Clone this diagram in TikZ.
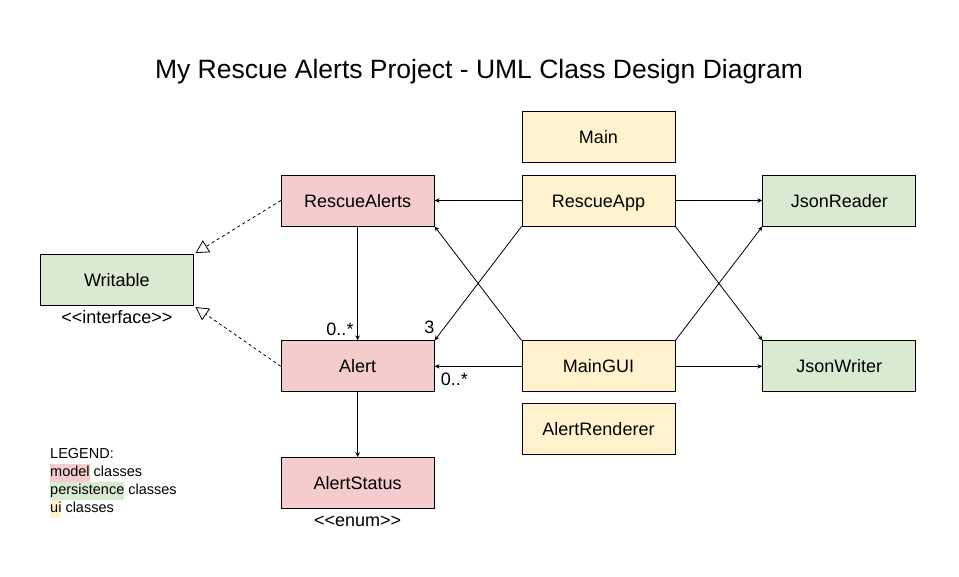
\documentclass[tikz,border=0pt]{standalone}
\usepackage{fontspec}
\setmainfont{Liberation Sans}
\usepackage{xcolor}
\usetikzlibrary{positioning,arrows.meta}
\definecolor{modelpink}{HTML}{F4CCCC}
\definecolor{persistgreen}{HTML}{D9EAD3}
\definecolor{uiyellow}{HTML}{FFF2CC}
\newcommand{\hilite}[2]{{\setlength{\fboxsep}{0pt}\colorbox{#1}{\strut #2}}}
\newcommand{\stereo}[1]{<\kern0pt<#1>\kern0pt>}

\begin{document}
\begin{tikzpicture}[
  cls/.style={draw, line width=0.8pt, minimum width=153pt, minimum height=51pt, inner sep=0pt,
    text height=17pt, text depth=4pt, font=\fontsize{18}{22}\selectfont},
  model/.style={cls, fill=modelpink},
  persist/.style={cls, fill=persistgreen},
  ui/.style={cls, fill=uiyellow},
  assoc/.style={line width=0.8pt, -{Stealth[length=5pt,width=4.5pt]}},
  realize/.style={line width=0.8pt, dashed, -{Triangle[open,length=13pt,width=14pt]}, shorten >=2pt},
  lbl/.style={font=\fontsize{18}{22}\selectfont, inner sep=1pt}
]
  \useasboundingbox (0,0) rectangle (959pt,-576pt);
  \node[font=\fontsize{26.5}{32}\selectfont] (title) at (479pt,-72pt) {My Rescue Alerts Project - UML Class Design Diagram};

  \node[ui] (RescueApp) at (598.5pt,-200.5pt) {RescueApp};
  \node[ui, above=12pt of RescueApp]     (Main)          {Main};
  \node[ui, below=114pt of RescueApp]    (MainGUI)       {MainGUI};
  \node[ui, below=11pt of MainGUI]       (AlertRenderer) {AlertRenderer};
  \node[model, left=87pt of RescueApp]   (RescueAlerts)  {RescueAlerts};
  \node[model, left=87pt of MainGUI]     (Alert)         {Alert};
  \node[model, below=65pt of Alert]      (AlertStatus)   {AlertStatus};
  \node[persist, right=87pt of RescueApp] (JsonReader)   {JsonReader};
  \node[persist, right=87pt of MainGUI]   (JsonWriter)   {JsonWriter};
  \node[persist, left=87pt of RescueAlerts, yshift=-79.5pt] (Writable) {Writable};

  \node[lbl, below=3pt of Writable]    (WritableTag) {\stereo{interface}};
  \node[lbl, below=6pt of AlertStatus] (StatusTag)   {\stereo{enum}};

  \path[assoc]
  (RescueApp) edge (RescueAlerts)
  (RescueApp) edge (JsonReader)
  (MainGUI) edge (Alert)
  (MainGUI) edge (JsonWriter)
  (RescueApp.south west) edge (Alert.north east)
  (MainGUI.north west) edge (RescueAlerts.south east)
  (RescueApp.south east) edge (JsonWriter.north west)
  (MainGUI.north east) edge (JsonReader.south west)
  (RescueAlerts) edge (Alert)
  (Alert) edge (AlertStatus);
  \path[realize]
  (RescueAlerts.west) edge (Writable.north east)
  (Alert.west) edge (Writable.south east);

  \node[lbl, anchor=south east] (manyAlerts) at ([xshift=-3pt,yshift=4pt]Alert.north) {0..*};
  \node[lbl, anchor=south east] (three) at ([xshift=1pt,yshift=6pt]Alert.north east) {3};
  \node[lbl, anchor=north west] (manyGUI) at ([xshift=5pt,yshift=-5pt]Alert.east) {0..*};

  \node[anchor=north west, align=left, inner sep=0pt, font=\fontsize{14.5}{18}\selectfont] (legend) at (50pt,-448pt)
  {LEGEND:\\\hilite{modelpink}{model} classes\\\hilite{persistgreen}{persistence} classes\\\hilite{uiyellow}{ui} classes};
\end{tikzpicture}
\end{document}
